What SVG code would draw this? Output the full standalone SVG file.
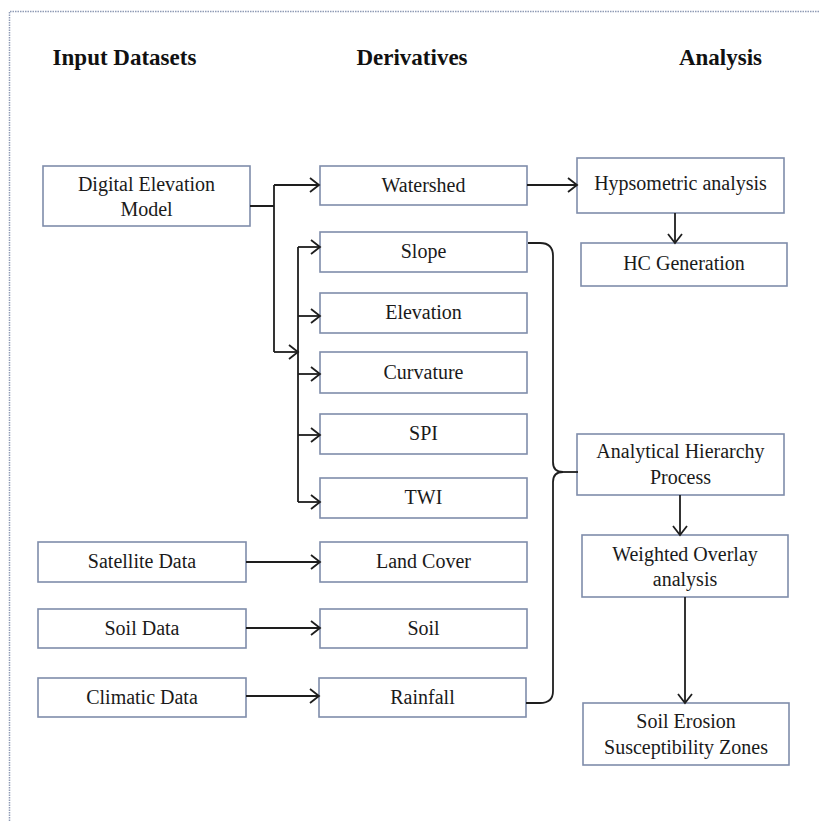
<svg xmlns="http://www.w3.org/2000/svg" width="820" height="821" viewBox="0 0 820 821">
<defs>
<style>
.box{fill:#ffffff;stroke:#7f8dab;stroke-width:1.6}
.t{font-family:"Liberation Serif","Times New Roman",serif;font-size:20px;fill:#1a1a1a;text-anchor:middle}
.h{font-family:"Liberation Serif","Times New Roman",serif;font-size:23px;font-weight:bold;fill:#111;text-anchor:middle}
.c{fill:none;stroke:#1e1e1e;stroke-width:1.8}
</style>
<marker id="arr" markerUnits="userSpaceOnUse" markerWidth="14" markerHeight="16" refX="11" refY="8" orient="auto" overflow="visible">
<path d="M2,1 L11,8 L2,15" fill="none" stroke="#1e1e1e" stroke-width="1.8"/>
</marker>
</defs>
<rect x="0" y="0" width="820" height="821" fill="#ffffff"/>
<path d="M9.5,821 V11.5 H820" fill="none" stroke="#8f9bb5" stroke-width="1.5" stroke-dasharray="1.5,1"/>

<g id="headings">
<text class="h" x="124.5" y="65">Input Datasets</text>
<text class="h" x="412" y="65">Derivatives</text>
<text class="h" x="720.5" y="65">Analysis</text>
</g>

<g id="dem"><rect class="box" x="43" y="166" width="207" height="60"/><text class="t" x="146.5" y="191">Digital Elevation</text><text class="t" x="146.5" y="216">Model</text></g>
<g id="satellite"><rect class="box" x="38" y="542" width="208" height="40"/><text class="t" x="142" y="568">Satellite Data</text></g>
<g id="soildata"><rect class="box" x="38" y="609" width="208" height="39"/><text class="t" x="142" y="635">Soil Data</text></g>
<g id="climatic"><rect class="box" x="38" y="678" width="208" height="39"/><text class="t" x="142" y="704">Climatic Data</text></g>

<g id="watershed"><rect class="box" x="320" y="166" width="207" height="39"/><text class="t" x="423.5" y="192">Watershed</text></g>
<g id="slope"><rect class="box" x="320" y="232" width="207" height="40"/><text class="t" x="423.5" y="258">Slope</text></g>
<g id="elevation"><rect class="box" x="320" y="293" width="207" height="40"/><text class="t" x="423.5" y="319">Elevation</text></g>
<g id="curvature"><rect class="box" x="320" y="352" width="207" height="41"/><text class="t" x="423.5" y="379">Curvature</text></g>
<g id="spi"><rect class="box" x="320" y="414" width="207" height="40"/><text class="t" x="423.5" y="440">SPI</text></g>
<g id="twi"><rect class="box" x="320" y="478" width="207" height="40"/><text class="t" x="423.5" y="504">TWI</text></g>
<g id="landcover"><rect class="box" x="320" y="542" width="207" height="40"/><text class="t" x="423.5" y="568">Land Cover</text></g>
<g id="soil"><rect class="box" x="320" y="609" width="207" height="39"/><text class="t" x="423.5" y="635">Soil</text></g>
<g id="rainfall"><rect class="box" x="319" y="678" width="207" height="39"/><text class="t" x="422.5" y="704">Rainfall</text></g>

<g id="hypsometric"><rect class="box" x="577" y="158" width="207" height="55"/><text class="t" x="680.5" y="190">Hypsometric analysis</text></g>
<g id="hc"><rect class="box" x="581" y="243" width="206" height="43"/><text class="t" x="684" y="270">HC Generation</text></g>
<g id="ahp"><rect class="box" x="577" y="434" width="207" height="61"/><text class="t" x="680.5" y="458">Analytical Hierarchy</text><text class="t" x="680.5" y="484">Process</text></g>
<g id="weighted"><rect class="box" x="582" y="535" width="206" height="62"/><text class="t" x="685" y="561">Weighted Overlay</text><text class="t" x="685" y="586">analysis</text></g>
<g id="erosion"><rect class="box" x="583" y="703" width="206" height="62"/><text class="t" x="686" y="728">Soil Erosion</text><text class="t" x="686" y="754">Susceptibility Zones</text></g>

<g id="connectors">
<path class="c" d="M250,206 H274 M274,185 V352"/>
<path class="c" d="M274,185 H319" marker-end="url(#arr)"/>
<path class="c" d="M274,352 H298" marker-end="url(#arr)"/>
<path class="c" d="M298,247 V502"/>
<path class="c" d="M298,247 H320" marker-end="url(#arr)"/>
<path class="c" d="M298,316 H320" marker-end="url(#arr)"/>
<path class="c" d="M298,374 H320" marker-end="url(#arr)"/>
<path class="c" d="M298,435 H320" marker-end="url(#arr)"/>
<path class="c" d="M298,502 H320" marker-end="url(#arr)"/>
<path class="c" d="M246,562 H320" marker-end="url(#arr)"/>
<path class="c" d="M246,628 H320" marker-end="url(#arr)"/>
<path class="c" d="M246,696 H319" marker-end="url(#arr)"/>
<path class="c" d="M527,185 H577" marker-end="url(#arr)"/>
<path class="c" d="M675,213 V243" marker-end="url(#arr)"/>
<path class="c" d="M680,495 V535" marker-end="url(#arr)"/>
<path class="c" d="M685,597 V703" marker-end="url(#arr)"/>
<path class="c" d="M528,243 H540 Q553,243 553,256 V462 Q553,472 563,472 Q553,472 553,482 V691 Q553,703 540,703 H526"/>
<path class="c" d="M561,472 H578"/>
</g>
</svg>
